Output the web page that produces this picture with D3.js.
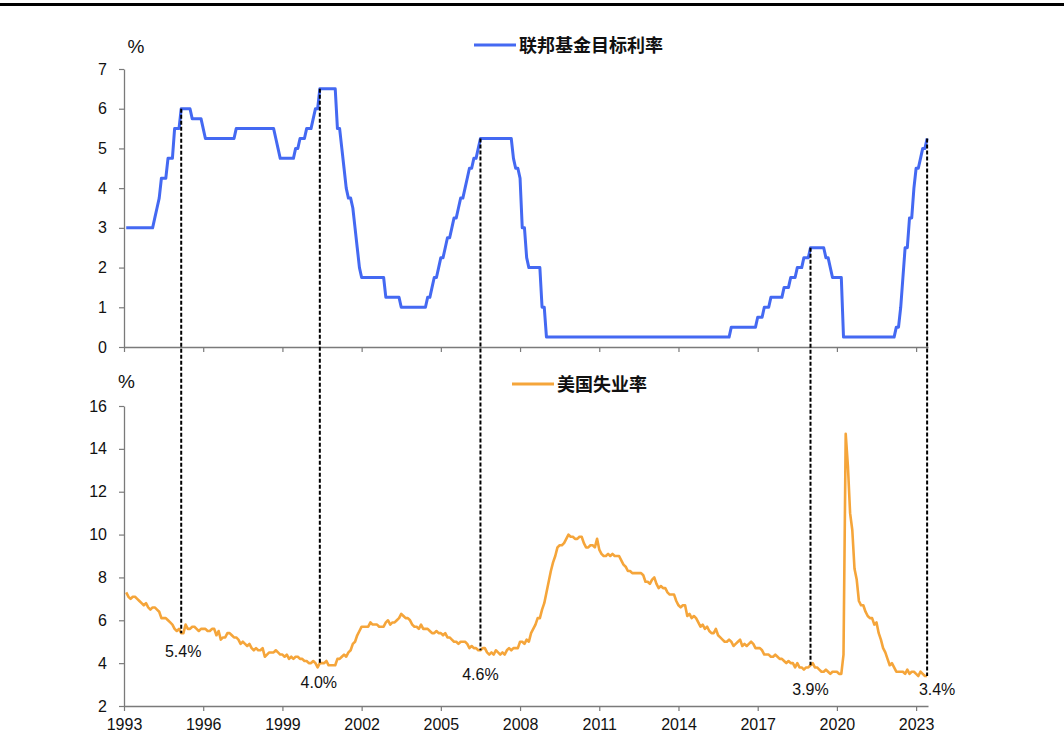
<!DOCTYPE html>
<html>
<head>
<meta charset="utf-8">
<script src="https://cdn.jsdelivr.net/npm/d3@7"></script>
<style>
  html, body { margin: 0; padding: 0; background: #fff; }
  svg { display: block; }
</style>
</head>
<body>
<svg id="chart" width="1064" height="753"></svg>
<script>
// ---------------- DATA ----------------
const startYear = 1993;              // monthly series, Jan 1993 .. May 2023
const xTickYears = [1993, 1996, 1999, 2002, 2005, 2008, 2011, 2014, 2017, 2020, 2023];
const fedTicks = [0, 1, 2, 3, 4, 5, 6, 7];
const unempTicks = [2, 4, 6, 8, 10, 12, 14, 16];
const fedLabel = "联邦基金目标利率";
const unempLabel = "美国失业率";

// Federal funds target rate (%), month-end values
const fedRate = [
  3,3,3,3,3,3,3,3,3,3,3,3,                                   // 1993
  3,3.25,3.5,3.75,4.25,4.25,4.25,4.75,4.75,4.75,5.5,5.5,     // 1994
  5.5,6,6,6,6,6,5.75,5.75,5.75,5.75,5.75,5.5,                // 1995
  5.25,5.25,5.25,5.25,5.25,5.25,5.25,5.25,5.25,5.25,5.25,5.25, // 1996
  5.25,5.25,5.5,5.5,5.5,5.5,5.5,5.5,5.5,5.5,5.5,5.5,         // 1997
  5.5,5.5,5.5,5.5,5.5,5.5,5.5,5.5,5.25,5,4.75,4.75,          // 1998
  4.75,4.75,4.75,4.75,4.75,5,5,5.25,5.25,5.25,5.5,5.5,       // 1999
  5.5,5.75,6,6,6.5,6.5,6.5,6.5,6.5,6.5,6.5,6.5,              // 2000
  5.5,5.5,5,4.5,4,3.75,3.75,3.5,3,2.5,2,1.75,                // 2001
  1.75,1.75,1.75,1.75,1.75,1.75,1.75,1.75,1.75,1.75,1.25,1.25, // 2002
  1.25,1.25,1.25,1.25,1.25,1,1,1,1,1,1,1,                    // 2003
  1,1,1,1,1,1.25,1.25,1.5,1.75,1.75,2,2.25,                  // 2004
  2.25,2.5,2.75,2.75,3,3.25,3.25,3.5,3.75,3.75,4,4.25,       // 2005
  4.5,4.5,4.75,4.75,5,5.25,5.25,5.25,5.25,5.25,5.25,5.25,    // 2006
  5.25,5.25,5.25,5.25,5.25,5.25,5.25,5.25,4.75,4.5,4.5,4.25, // 2007
  3,3,2.25,2,2,2,2,2,2,1,1,0.25,                             // 2008
  0.25,0.25,0.25,0.25,0.25,0.25,0.25,0.25,0.25,0.25,0.25,0.25, // 2009
  0.25,0.25,0.25,0.25,0.25,0.25,0.25,0.25,0.25,0.25,0.25,0.25, // 2010
  0.25,0.25,0.25,0.25,0.25,0.25,0.25,0.25,0.25,0.25,0.25,0.25, // 2011
  0.25,0.25,0.25,0.25,0.25,0.25,0.25,0.25,0.25,0.25,0.25,0.25, // 2012
  0.25,0.25,0.25,0.25,0.25,0.25,0.25,0.25,0.25,0.25,0.25,0.25, // 2013
  0.25,0.25,0.25,0.25,0.25,0.25,0.25,0.25,0.25,0.25,0.25,0.25, // 2014
  0.25,0.25,0.25,0.25,0.25,0.25,0.25,0.25,0.25,0.25,0.25,0.5,  // 2015
  0.5,0.5,0.5,0.5,0.5,0.5,0.5,0.5,0.5,0.5,0.5,0.75,          // 2016
  0.75,0.75,1,1,1,1.25,1.25,1.25,1.25,1.25,1.25,1.5,         // 2017
  1.5,1.5,1.75,1.75,1.75,2,2,2,2.25,2.25,2.25,2.5,           // 2018
  2.5,2.5,2.5,2.5,2.5,2.5,2.25,2.25,2,1.75,1.75,1.75,        // 2019
  1.75,1.75,0.25,0.25,0.25,0.25,0.25,0.25,0.25,0.25,0.25,0.25, // 2020
  0.25,0.25,0.25,0.25,0.25,0.25,0.25,0.25,0.25,0.25,0.25,0.25, // 2021
  0.25,0.25,0.5,0.5,1,1.75,2.5,2.5,3.25,3.25,4,4.5,          // 2022
  4.5,4.75,5,5,5.25                                          // 2023
];

// US unemployment rate (%), monthly
const unemployment = [
  7.3,7.1,7.0,7.1,7.1,7.0,6.9,6.8,6.7,6.8,6.6,6.5,   // 1993
  6.6,6.6,6.5,6.4,6.1,6.1,6.1,6.0,5.9,5.8,5.6,5.5,   // 1994
  5.6,5.4,5.4,5.8,5.6,5.6,5.7,5.7,5.6,5.5,5.6,5.6,   // 1995
  5.6,5.5,5.5,5.6,5.6,5.3,5.5,5.1,5.2,5.2,5.4,5.4,   // 1996
  5.3,5.2,5.2,5.1,4.9,5.0,4.9,4.8,4.9,4.7,4.6,4.7,   // 1997
  4.6,4.6,4.7,4.3,4.4,4.5,4.5,4.5,4.6,4.5,4.4,4.4,   // 1998
  4.3,4.4,4.2,4.3,4.2,4.3,4.3,4.2,4.2,4.1,4.1,4.0,   // 1999
  4.0,4.1,4.0,3.8,4.0,4.0,4.0,4.1,3.9,3.9,3.9,3.9,   // 2000
  4.2,4.2,4.3,4.4,4.3,4.5,4.6,4.9,5.0,5.3,5.5,5.7,   // 2001
  5.7,5.7,5.7,5.9,5.8,5.8,5.8,5.7,5.7,5.7,5.9,6.0,   // 2002
  5.8,5.9,5.9,6.0,6.1,6.3,6.2,6.1,6.1,6.0,5.8,5.7,   // 2003
  5.7,5.6,5.8,5.6,5.6,5.6,5.5,5.4,5.4,5.5,5.4,5.4,   // 2004
  5.3,5.4,5.2,5.2,5.1,5.0,5.0,4.9,5.0,5.0,5.0,4.9,   // 2005
  4.7,4.8,4.7,4.7,4.6,4.6,4.7,4.7,4.5,4.4,4.5,4.4,   // 2006
  4.6,4.5,4.4,4.5,4.4,4.6,4.7,4.6,4.7,4.7,4.7,5.0,   // 2007
  5.0,4.9,5.1,5.0,5.4,5.6,5.8,6.1,6.1,6.5,6.8,7.3,   // 2008
  7.8,8.3,8.7,9.0,9.4,9.5,9.5,9.6,9.8,10.0,9.9,9.9,  // 2009
  9.8,9.8,9.9,9.9,9.6,9.4,9.4,9.5,9.5,9.4,9.8,9.3,   // 2010
  9.1,9.0,9.0,9.1,9.0,9.1,9.0,9.0,9.0,8.8,8.6,8.5,   // 2011
  8.3,8.3,8.2,8.2,8.2,8.2,8.2,8.1,7.8,7.8,7.7,7.9,   // 2012
  8.0,7.7,7.5,7.6,7.5,7.5,7.3,7.2,7.2,7.2,6.9,6.7,   // 2013
  6.6,6.7,6.7,6.2,6.3,6.1,6.2,6.1,5.9,5.7,5.8,5.6,   // 2014
  5.7,5.5,5.4,5.4,5.6,5.3,5.2,5.1,5.0,5.0,5.1,5.0,   // 2015
  4.8,4.9,5.0,5.1,4.8,4.9,4.8,4.9,5.0,4.9,4.7,4.7,   // 2016
  4.7,4.6,4.4,4.4,4.4,4.3,4.3,4.4,4.3,4.2,4.2,4.1,   // 2017
  4.0,4.1,4.0,4.0,3.8,4.0,3.8,3.8,3.7,3.8,3.8,3.9,   // 2018
  4.0,3.8,3.8,3.7,3.6,3.6,3.7,3.6,3.5,3.6,3.6,3.6,   // 2019
  3.5,3.5,4.4,14.7,13.2,11.0,10.2,8.4,7.9,6.9,6.7,6.7, // 2020
  6.4,6.2,6.1,6.1,5.8,5.9,5.4,5.1,4.7,4.5,4.2,3.9,   // 2021
  4.0,3.8,3.6,3.6,3.6,3.6,3.5,3.7,3.5,3.6,3.6,3.5,   // 2022
  3.4,3.6,3.5,3.4,3.4                                // 2023
];

// Marked dates (year, month) where dashed lines link the two panels
const markYears  = [1995, 2000, 2006, 2018, 2023];
const markMonths = [2, 5, 6, 12, 5];

// ---------------- LAYOUT / STYLE ----------------
const FONT = "'Liberation Sans', Arial, 'Noto Sans CJK SC', sans-serif";
const CJK = "'Noto Sans CJK SC', 'Noto Sans CJK JP', sans-serif";
const BLUE = "#4469f2";
const ORANGE = "#f5a53a";
const AXIS = "#7a7a7a";
const labelDx = [2, -1, 0, 0, 10];
const labelDy = [24, 24.5, 29.5, 29.5, 19];

const svg = d3.select("#chart");

// top rule
svg.append("rect").attr("x", 0).attr("y", 3).attr("width", 1064).attr("height", 3).attr("fill", "#000");

const x = d3.scaleLinear().domain([1993, 2023.45]).range([124, 928]);
const yTop = d3.scaleLinear().domain([0, 7]).range([347, 69]);
const yBot = d3.scaleLinear().domain([2, 16]).range([706, 406]);

// date of index i: month-end convention
const dateOf = i => startYear + (i + 1) / 12;

const fedData = fedRate.map((v, i) => ({ t: dateOf(i), v }));
const unData = unemployment.map((v, i) => ({ t: dateOf(i), v }));

function styleAxis(g) {
  g.selectAll("path.domain").attr("stroke", AXIS).attr("stroke-width", 1.3);
  g.selectAll(".tick line").attr("stroke", AXIS).attr("stroke-width", 1.2);
  g.selectAll(".tick text").attr("fill", "#111").style("font-family", FONT).style("font-size", "16px");
}

// Y axes
const gyTop = svg.append("g").attr("transform", "translate(124,0)")
  .call(d3.axisLeft(yTop).tickValues(fedTicks).tickSize(5).tickSizeOuter(0).tickPadding(12).tickFormat(d3.format("d")));
styleAxis(gyTop);
const gyBot = svg.append("g").attr("transform", "translate(124,0)")
  .call(d3.axisLeft(yBot).tickValues(unempTicks).tickSize(5).tickSizeOuter(0).tickPadding(12).tickFormat(d3.format("d")));
styleAxis(gyBot);

// X axes
const gxTop = svg.append("g").attr("transform", "translate(0,347)")
  .call(d3.axisBottom(x).tickValues(xTickYears).tickSize(5).tickSizeOuter(0).tickFormat(""));
styleAxis(gxTop);
const gxBot = svg.append("g").attr("transform", "translate(0,706)")
  .call(d3.axisBottom(x).tickValues(xTickYears).tickSize(5).tickSizeOuter(0).tickPadding(8).tickFormat(d3.format("d")));
styleAxis(gxBot);

// lines
const lineTop = d3.line().x(d => x(d.t)).y(d => yTop(d.v));
const lineBot = d3.line().x(d => x(d.t)).y(d => yBot(d.v));

svg.append("path").datum(fedData).attr("d", lineTop)
  .attr("fill", "none").attr("stroke", BLUE).attr("stroke-width", 3).attr("stroke-linejoin", "round");
svg.append("path").datum(unData).attr("d", lineBot)
  .attr("fill", "none").attr("stroke", ORANGE).attr("stroke-width", 2.6).attr("stroke-linejoin", "round");

// dashed connectors and labels
markYears.forEach((yr, k) => {
  const idx = (yr - startYear) * 12 + markMonths[k] - 1;
  const t = dateOf(idx);
  const fv = fedRate[idx], uv = unemployment[idx];
  svg.append("line")
    .attr("x1", x(t)).attr("x2", x(t))
    .attr("y1", yTop(fv)).attr("y2", yBot(uv))
    .attr("stroke", "#000").attr("stroke-width", 2).attr("stroke-dasharray", "4,2");
  svg.append("text")
    .attr("x", x(t) + labelDx[k]).attr("y", yBot(uv) + labelDy[k])
    .attr("text-anchor", "middle")
    .style("font-family", FONT).style("font-size", "16px").attr("fill", "#111")
    .text(uv.toFixed(1) + "%");
});

// unit labels
svg.append("text").attr("x", 136).attr("y", 52.5).attr("text-anchor", "middle")
  .style("font-family", FONT).style("font-size", "19px").attr("fill", "#111").text("%");
svg.append("text").attr("x", 126.5).attr("y", 388).attr("text-anchor", "middle")
  .style("font-family", FONT).style("font-size", "19px").attr("fill", "#111").text("%");

// legends
function legend(x0, y0, color, label) {
  svg.append("line").attr("x1", x0).attr("x2", x0 + 42).attr("y1", y0).attr("y2", y0)
    .attr("stroke", color).attr("stroke-width", 3);
  svg.append("text").attr("x", x0 + 45).attr("y", y0 + 6.5)
    .style("font-family", CJK).style("font-size", "18px").style("font-weight", "bold")
    .attr("fill", "#111").text(label);
}
legend(474, 45, BLUE, fedLabel);
legend(512, 384, ORANGE, unempLabel);
</script>
</body>
</html>
